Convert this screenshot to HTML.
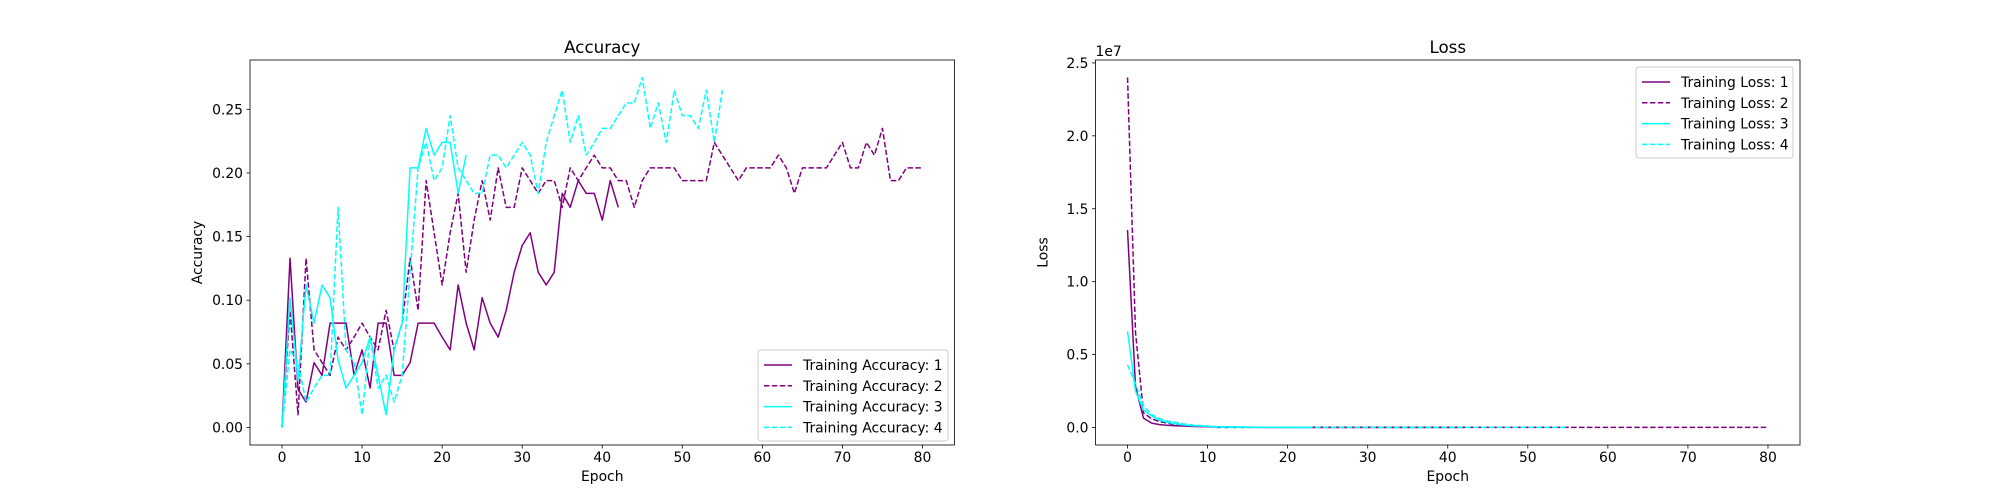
<!DOCTYPE html>
<html><head><meta charset="utf-8"><style>
body{margin:0;background:#fff}
svg{display:block;font-family:"DejaVu Sans","Liberation Sans",sans-serif}
</style></head><body>
<svg id="fig" width="2000" height="500" viewBox="0 0 2000 500" xmlns="http://www.w3.org/2000/svg">
<rect width="2000" height="500" fill="#fff"/>
</svg>
<script>
const epochs1 = Array.from({length:43},(_,i)=>i);
const acc1 = [0,0.133,0.03,0.02,0.051,0.041,0.082,0.082,0.082,0.041,0.061,0.031,0.082,0.082,0.041,0.041,0.051,0.082,0.082,0.082,0.071,0.061,0.112,0.082,0.061,0.102,0.082,0.071,0.092,0.122,0.143,0.153,0.122,0.112,0.122,0.184,0.173,0.194,0.184,0.184,0.163,0.194,0.173];
const acc2 = [0,0.092,0.01,0.133,0.061,0.051,0.041,0.071,0.061,0.071,0.082,0.071,0.061,0.092,0.061,0.082,0.133,0.092,0.194,0.153,0.112,0.153,0.184,0.122,0.163,0.194,0.163,0.204,0.173,0.173,0.204,0.194,0.184,0.194,0.194,0.173,0.204,0.194,0.204,0.214,0.204,0.204,0.194,0.194,0.173,0.194,0.204,0.204,0.204,0.204,0.194,0.194,0.194,0.194,0.224,0.214,0.204,0.194,0.204,0.204,0.204,0.204,0.214,0.204,0.184,0.204,0.204,0.204,0.204,0.214,0.224,0.204,0.204,0.224,0.214,0.235,0.194,0.194,0.204,0.204,0.204];
const acc3 = [0,0.102,0.037,0.112,0.082,0.112,0.102,0.053,0.031,0.041,0.051,0.071,0.041,0.01,0.061,0.082,0.204,0.204,0.235,0.214,0.224,0.224,0.184,0.214];
const acc4 = [0,0.061,0.051,0.02,0.031,0.041,0.041,0.173,0.061,0.051,0.01,0.071,0.031,0.041,0.02,0.041,0.122,0.204,0.224,0.194,0.204,0.245,0.204,0.194,0.184,0.184,0.214,0.214,0.204,0.214,0.224,0.214,0.184,0.224,0.245,0.265,0.224,0.245,0.214,0.224,0.235,0.235,0.245,0.255,0.255,0.275,0.235,0.255,0.224,0.265,0.245,0.245,0.235,0.265,0.224,0.265];
const loss1 = [1.354e7,0.28e7,0.064e7,0.03e7,0.02e7,0.015e7,0.012e7,0.01e7,0.008e7,0.006e7,0.005e7,0.004e7,0.003e7,0.003e7,0.002e7,0.002e7,0.002e7,0.001e7,0.001e7,0.001e7,0.001e7,0.001e7,0.001e7,0.001e7,0.001e7,0.001e7,0.001e7,0.001e7,0.001e7,0.001e7,0.001e7,0.001e7,0.001e7,0.001e7,0.001e7,0.001e7,0.001e7,0.001e7,0.001e7,0.001e7,0.001e7,0.001e7,0.001e7];
const loss2 = [2.4e7,0.65e7,0.1e7,0.06e7,0.04e7,0.03e7,0.02e7,0.016e7,0.012e7,0.01e7,0.008e7];
const loss3 = [0.66e7,0.25e7,0.12e7,0.08e7,0.05e7,0.035e7,0.025e7,0.018e7,0.013e7,0.01e7,0.008e7,0.006e7,0.005e7,0.004e7,0.003e7,0.003e7,0.002e7,0.002e7,0.002e7,0.002e7,0.001e7,0.001e7,0.001e7,0.001e7];
const loss4 = [0.43e7,0.3e7,0.15e7,0.09e7,0.06e7,0.045e7,0.035e7,0.025e7,0.018e7,0.014e7,0.011e7];
const accTicks = [0,0.05,0.10,0.15,0.20,0.25];
const accTickLabels = ["0.00","0.05","0.10","0.15","0.20","0.25"];
const lossTicks = [0,0.5e7,1e7,1.5e7,2e7,2.5e7];
const lossTickLabels = ["0.0","0.5","1.0","1.5","2.0","2.5"];
const xTicks = [0,10,20,30,40,50,60,70,80];
const accLegend = ["Training Accuracy: 1","Training Accuracy: 2","Training Accuracy: 3","Training Accuracy: 4"];
const lossLegend = ["Training Loss: 1","Training Loss: 2","Training Loss: 3","Training Loss: 4"];

// pad loss2/loss4 tails with small values read as ~0
while(loss2.length<81) loss2.push(0.001e7);
while(loss4.length<56) loss4.push(0.001e7);

const svg=document.getElementById('fig');
const NS='http://www.w3.org/2000/svg';
function mk(tag,attrs,parent){const e=document.createElementNS(NS,tag);for(const k in attrs)e.setAttribute(k,attrs[k]);(parent||svg).appendChild(e);return e;}
const styles=[{c:'#800080',d:''},{c:'#800080',d:'5.5,2.4'},{c:'#00ffff',d:''},{c:'#00ffff',d:'5.5,2.4'}];

function panel(px,name,title,ylabel,series,ymin,ymax,yt,ytl,legend,legendPos,offset){
  const L=px,T=60,W=704.5,H=385;
  const xmin=-4,xmax=84;
  const sx=v=>L+(v-xmin)/(xmax-xmin)*W;
  const sy=v=>T+H-(v-ymin)/(ymax-ymin)*H;
  const g=mk('g',{});
  
  
  const clipId='clip-'+name;
  const cp=mk('clipPath',{id:clipId},g);mk('rect',{x:L,y:T,width:W,height:H},cp);
  series.forEach((s,i)=>{
    const pts=s.map((v,j)=>sx(j).toFixed(2)+','+sy(v).toFixed(2)).join(' ');
    const pl=mk('polyline',{points:pts,fill:'none',stroke:styles[i].c,'stroke-width':1.5,'stroke-dasharray':styles[i].d,'clip-path':`url(#${clipId})`,'stroke-linejoin':'round'},g);
    
    
  });
  const fr=mk('rect',{x:L,y:T,width:W,height:H,fill:'none',stroke:'#000','stroke-width':0.8},g);
  
  
  xTicks.forEach(t=>{
    const x=sx(t);mk('line',{x1:x,x2:x,y1:T+H,y2:T+H+3.5,stroke:'#000','stroke-width':0.8},g);
    const tx=mk('text',{x:x,y:T+H+17,'font-size':13.9,'text-anchor':'middle'},g);tx.textContent=t;
    
    
  });
  yt.forEach((t,i)=>{
    const y=sy(t);mk('line',{x1:L-3.5,x2:L,y1:y,y2:y,stroke:'#000','stroke-width':0.8},g);
    const tx=mk('text',{x:L-7,y:y+5,'font-size':13.9,'text-anchor':'end'},g);tx.textContent=ytl[i];
    
    
  });
  if(offset){const o=mk('text',{x:L,y:T-4,'font-size':13.9,'text-anchor':'start'},g);o.textContent=offset;
    
    }
  const ti=mk('text',{x:L+W/2,y:T-7,'font-size':16.7,'text-anchor':'middle'},g);ti.textContent=title;
  
  
  const xl=mk('text',{x:L+W/2,y:T+H+36,'font-size':13.9,'text-anchor':'middle'},g);xl.textContent='Epoch';
  
  
  const yx=L-48,yy=T+H/2;
  const yl=mk('text',{x:yx,y:yy,'font-size':13.9,'text-anchor':'middle',transform:`rotate(-90 ${yx} ${yy})`},g);yl.textContent=ylabel;
  
  
  // legend
  const lw=legendPos.w,lh=91,lx=legendPos.right-lw,ly=legendPos.top;
  const lg=mk('g',{},g);
  
  
  mk('rect',{x:lx,y:ly,width:lw,height:lh,rx:3,fill:'#fff','fill-opacity':0.8,stroke:'#ccc','stroke-width':1},lg);
  legend.forEach((t,i)=>{
    const yy2=ly+15+i*20.8;
    mk('line',{x1:lx+6,x2:lx+34,y1:yy2,y2:yy2,stroke:styles[i].c,'stroke-width':1.5,'stroke-dasharray':styles[i].d},lg);
    const tx=mk('text',{x:lx+45,y:yy2+5,'font-size':13.9},lg);tx.textContent=t;
    
    
  });
}
panel(250,'accuracy-chart','Accuracy','Accuracy',[acc1,acc2,acc3,acc4],-0.01375,0.28875,accTicks,accTickLabels,accLegend,{right:948,top:350,w:190},null);
panel(1095.5,'loss-chart','Loss','Loss',[loss1,loss2,loss3,loss4],-0.12e7,2.52e7,lossTicks,lossTickLabels,lossLegend,{right:1793,top:67,w:157},'1e7');
</script>
</body></html>
